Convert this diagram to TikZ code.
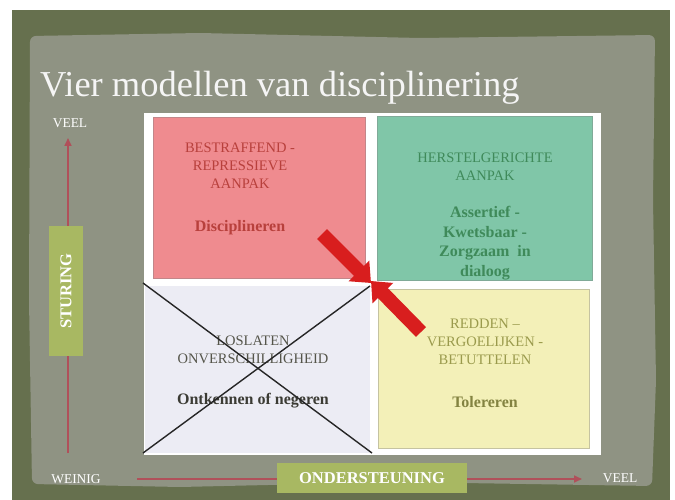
\documentclass[tikz,border=0pt]{standalone}
\usepackage{fontspec}
\setmainfont{Liberation Serif}
\usetikzlibrary{arrows.meta}
\definecolor{frameol}{HTML}{66704E}
\definecolor{paper}{HTML}{8F9383}
\definecolor{qpink}{HTML}{EF8B8F}
\definecolor{qteal}{HTML}{80C6A8}
\definecolor{qlav}{HTML}{ECECF4}
\definecolor{qyel}{HTML}{F3F0B8}
\definecolor{tred}{HTML}{B8403C}
\definecolor{tgreen}{HTML}{3F8A5A}
\definecolor{tgrey}{HTML}{55554A}
\definecolor{tolive}{HTML}{9A9A4C}
\definecolor{lgreen}{HTML}{A8B862}
\definecolor{axisred}{HTML}{B0505A}
\definecolor{arrred}{HTML}{D81E1E}
\begin{document}
\begin{tikzpicture}[x=1pt,y=-1pt,
  quad/.style={draw=#1!60!gray, line width=1pt},
  qtext/.style={align=center, font=\fontsize{14.5}{18}\selectfont},
  qbold/.style={align=center, font=\fontsize{16}{19.7}\selectfont\bfseries},
  axislbl/.style={text=white, font=\fontsize{13.5}{14}\selectfont},
  greenlbl/.style={fill=lgreen, text=white, font=\fontsize{16.5}{18}\selectfont\bfseries, inner sep=0pt},
  axisline/.style={draw=axisred, line width=1.6pt, -{Triangle[length=8pt,width=7pt]}},
  bigarrow/.style={draw=arrred!80!black, line width=14pt, color=arrred, -{Triangle[length=17pt,width=28pt]}},
  crossline/.style={draw=black!85, line width=1.4pt}
]
\useasboundingbox (0,0) rectangle (675,500);
% background
\fill[white] (0,0) rectangle (675,500);
\fill[frameol] (12,10) rectangle (670,500);
\fill[paper, rounded corners=6pt] (30,36) -- (200,33) -- (420,38) -- (655,35) -- (653,200) -- (656,380) -- (652,486) -- (400,482) -- (180,487) -- (32,484) -- (29,300) -- cycle;
% title
\node[anchor=base west, text=white!92!gray, font=\fontsize{36.5}{40}\selectfont, inner sep=0pt] (title) at (40,97) {Vier modellen van disciplinering};
% white panel
\fill[white] (144,113) rectangle (601,455);
% quadrants
\filldraw[fill=qpink, quad=qpink] (153,118) rectangle (365,278);
\filldraw[fill=qteal, quad=qteal] (377,117) rectangle (592,280);
\fill[qlav] (145,286) rectangle (370,453);
\filldraw[fill=qyel, quad=qyel] (378,289) rectangle (589,448);
\coordinate (blnw) at (143,283);
\coordinate (blse) at (372,453);
\coordinate (blne) at (370,286);
\coordinate (blsw) at (143,453);
% texts
\node[qtext, text=tred] (tl1) at (240,166) {BESTRAFFEND -\\REPRESSIEVE\\AANPAK};
\node[qbold, text=tred] (tl2) at (240,228) {Disciplineren};
\node[qtext, text=tgreen] (tr1) at (485,167) {HERSTELGERICHTE\\AANPAK};
\node[qbold, text=tgreen] (tr2) at (485,243) {Assertief -\\Kwetsbaar -\\Zorgzaam\ \ in\\dialoog};
\node[qtext, text=tgrey] (bl1) at (253,350) {LOSLATEN\\ONVERSCHILLIGHEID};
\node[qbold, text=tgrey!70!black] (bl2) at (253,401) {Ontkennen of negeren};
\node[qtext, text=tolive] (br1) at (485,342) {REDDEN –\\VERGOELIJKEN -\\BETUTTELEN};
\node[qbold, text=tolive!85!black] (br2) at (485,402) {Tolereren};
% cross
\draw[crossline] (blnw) -- (blse);
\draw[crossline] (blne) -- (blsw);
% big arrows
\coordinate (ctr) at (371,283);
\coordinate (a1s) at (322,234);
\coordinate (a2s) at (421,332);
\draw[bigarrow] (a1s) -- (ctr);
\draw[bigarrow] (a2s) -- ([yshift=2pt]ctr);
% vertical axis
\coordinate (ybot) at (68,453);
\coordinate (ytop) at (68,138);
\draw[axisline] (ybot) -- (ytop);
\node[axislbl] (veel1) at (70,123) {VEEL};
\node[greenlbl, minimum width=34pt, minimum height=130pt] (sturing) at (66,291) {};
\node[rotate=90, text=white, font=\fontsize{16.5}{18}\selectfont\bfseries] (sturingt) at (sturing) {STURING};
% horizontal axis
\coordinate (xl) at (137,479);
\coordinate (xr) at (582,479);
\draw[axisline] (xl) -- (xr);
\node[axislbl] (weinig) at (76,479) {WEINIG};
\node[axislbl] (veel2) at (620,478) {VEEL};
\node[greenlbl, minimum width=190pt, minimum height=30pt] (onder) at (372,478) {ONDERSTEUNING};
\end{tikzpicture}
\end{document}
